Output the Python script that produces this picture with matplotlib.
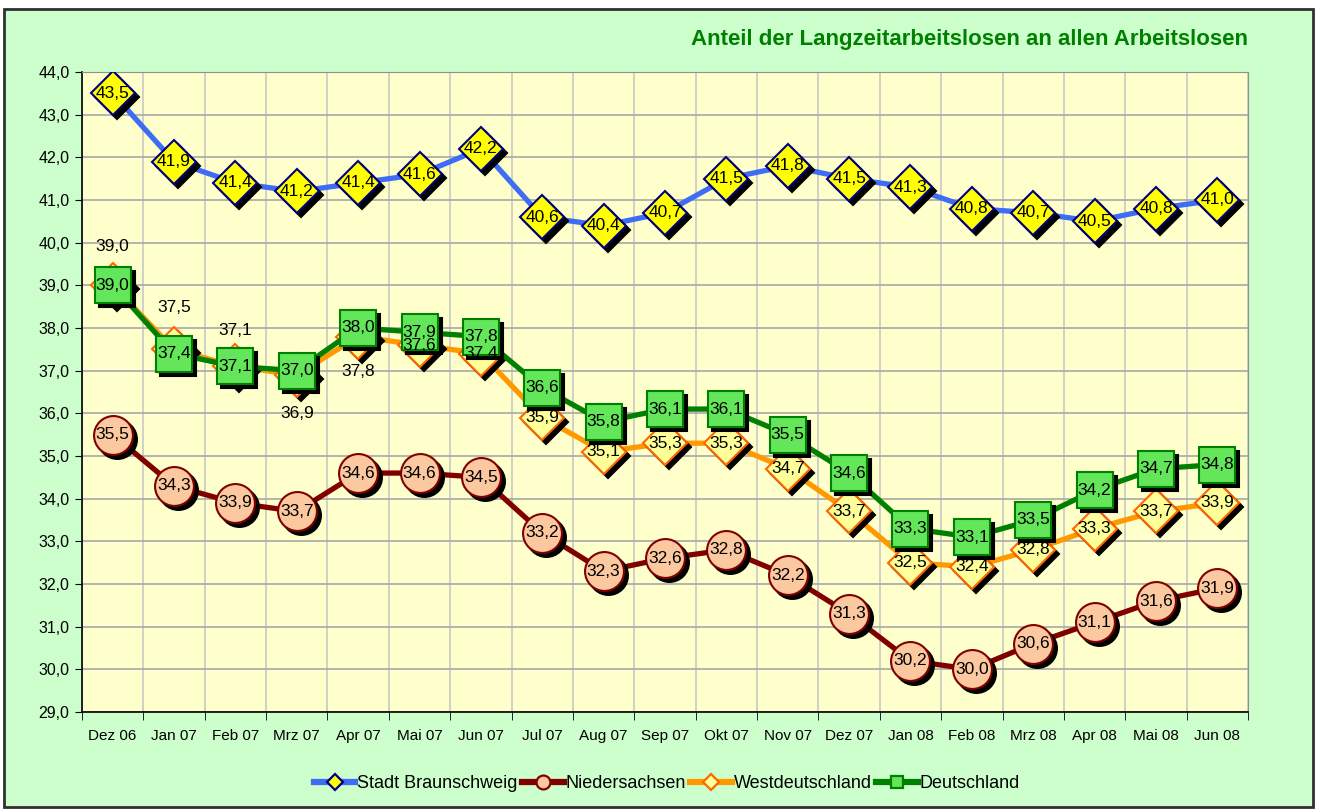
import matplotlib

matplotlib.use("Agg")
import matplotlib.pyplot as plt
from matplotlib.lines import Line2D
from matplotlib.patches import Rectangle
from matplotlib.ticker import FuncFormatter
from matplotlib.transforms import offset_copy

plt.rcParams["font.family"] = ["Liberation Sans", "DejaVu Sans"]

MONTHS = ["Dez 06", "Jan 07", "Feb 07", "Mrz 07", "Apr 07", "Mai 07", "Jun 07", "Jul 07",
          "Aug 07", "Sep 07", "Okt 07", "Nov 07", "Dez 07", "Jan 08", "Feb 08", "Mrz 08",
          "Apr 08", "Mai 08", "Jun 08"]
BRAUNSCHWEIG = [43.5, 41.9, 41.4, 41.2, 41.4, 41.6, 42.2, 40.6, 40.4, 40.7, 41.5, 41.8,
                41.5, 41.3, 40.8, 40.7, 40.5, 40.8, 41.0]
NIEDERSACHSEN = [35.5, 34.3, 33.9, 33.7, 34.6, 34.6, 34.5, 33.2, 32.3, 32.6, 32.8, 32.2,
                 31.3, 30.2, 30.0, 30.6, 31.1, 31.6, 31.9]
WESTDEUTSCHLAND = [39.0, 37.5, 37.1, 36.9, 37.8, 37.6, 37.4, 35.9, 35.1, 35.3, 35.3, 34.7,
                   33.7, 32.5, 32.4, 32.8, 33.3, 33.7, 33.9]
DEUTSCHLAND = [39.0, 37.4, 37.1, 37.0, 38.0, 37.9, 37.8, 36.6, 35.8, 36.1, 36.1, 35.5,
               34.6, 33.3, 33.1, 33.5, 34.2, 34.7, 34.8]
TITLE = "Anteil der Langzeitarbeitslosen an allen Arbeitslosen"

# (label, values, line colour, marker, marker size, face, edge)
SERIES = [
    ("Stadt Braunschweig", BRAUNSCHWEIG, "#3F6CF5", "D", 22, "#FFFF00", "#000080"),
    ("Niedersachsen", NIEDERSACHSEN, "#800000", "o", 28, "#FCC8A0", "#800000"),
    ("Westdeutschland", WESTDEUTSCHLAND, "#FF9900", "D", 22, "#FFFF99", "#FF6600"),
    ("Deutschland", DEUTSCHLAND, "#008000", "s", 26, "#63E65A", "#008000"),
]
# label offsets (points) where Excel moved the Westdeutschland labels off the marker
WEST_LABEL_OFFSETS = {0: (0, 28), 1: (0, 30), 2: (0, 26), 3: (0, -28), 4: (0, -25)}


def fmt(value):
    return f"{value:.1f}".replace(".", ",")


fig = plt.figure(figsize=(13.18, 8.10), dpi=100, facecolor="white")
fig.patches.append(Rectangle((4, 3), 1309, 798, transform=None, facecolor="#CCFFCC",
                             edgecolor="#303030", linewidth=2, zorder=-10))

ax = fig.add_axes([82 / 1318, 98 / 810, 1166 / 1318, 640 / 810])
ax.set_facecolor("#FFFFCC")
x = list(range(len(MONTHS)))
shadow = offset_copy(ax.transData, fig=fig, x=4, y=-4, units="dots")

for i, (name, values, color, marker, size, face, edge) in enumerate(SERIES):
    base = 3 + i * 4
    ax.plot(x, values, color=color, linewidth=3.8, solid_capstyle="round", zorder=base)
    ax.plot(x, values, linestyle="none", marker=marker, markersize=size, color="black",
            markeredgewidth=1.5, transform=shadow, zorder=base + 1)
    ax.plot(x, values, linestyle="none", marker=marker, markersize=size, markerfacecolor=face,
            markeredgecolor=edge, markeredgewidth=1.5, zorder=base + 2)

for name, values, *_ in SERIES:
    for i, v in enumerate(values):
        offset = WEST_LABEL_OFFSETS.get(i, (0, 0)) if name == "Westdeutschland" else (0, 0)
        ax.annotate(fmt(v), (i, v), xytext=offset, textcoords="offset points", ha="center",
                    va="center", fontsize=12.5, color="black", zorder=30)

ax.set_xlim(-0.5, len(MONTHS) - 0.5)
ax.set_ylim(29, 44)
ax.set_yticks(range(29, 45))
ax.yaxis.set_major_formatter(FuncFormatter(lambda v, _: fmt(v)))
ax.set_xticks(x)
ax.set_xticklabels(MONTHS)
ax.set_xticks([i - 0.5 for i in range(len(MONTHS) + 1)], minor=True)
ax.tick_params(axis="x", which="major", length=0, pad=12, labelsize=11)
ax.tick_params(axis="x", which="minor", length=6, direction="out", color="black")
ax.tick_params(axis="y", length=5, direction="out", labelsize=11.5, pad=4)
ax.grid(axis="y", which="major", color="#A8A8A8", linewidth=1.2, zorder=0)
ax.grid(axis="x", which="minor", color="#C8C8C8", linewidth=1.2, zorder=0)
ax.set_axisbelow(True)
for side in ("left", "bottom"):
    ax.spines[side].set_color("black")
    ax.spines[side].set_linewidth(1.2)
for side in ("top", "right"):
    ax.spines[side].set_color("#909090")

fig.text(1248 / 1318, 1 - 40 / 810, TITLE, ha="right", va="center", fontsize=16,
         fontweight="bold", color="#008000")

handles = [
    Line2D([], [], color=color, linewidth=4.5, marker=marker,
           markersize=8 if marker != "o" else 10, markerfacecolor=face,
           markeredgecolor=edge, markeredgewidth=1.6)
    for _, _, color, marker, _, face, edge in SERIES
]
fig.legend(handles, [s[0] for s in SERIES], loc="center", bbox_to_anchor=(0.506, 1 - 784 / 810),
           ncol=4, frameon=False, fontsize=13, handlelength=2.3, handletextpad=0.1,
           columnspacing=0.25)

fig.savefig("out.png", dpi=100, facecolor=fig.get_facecolor())
